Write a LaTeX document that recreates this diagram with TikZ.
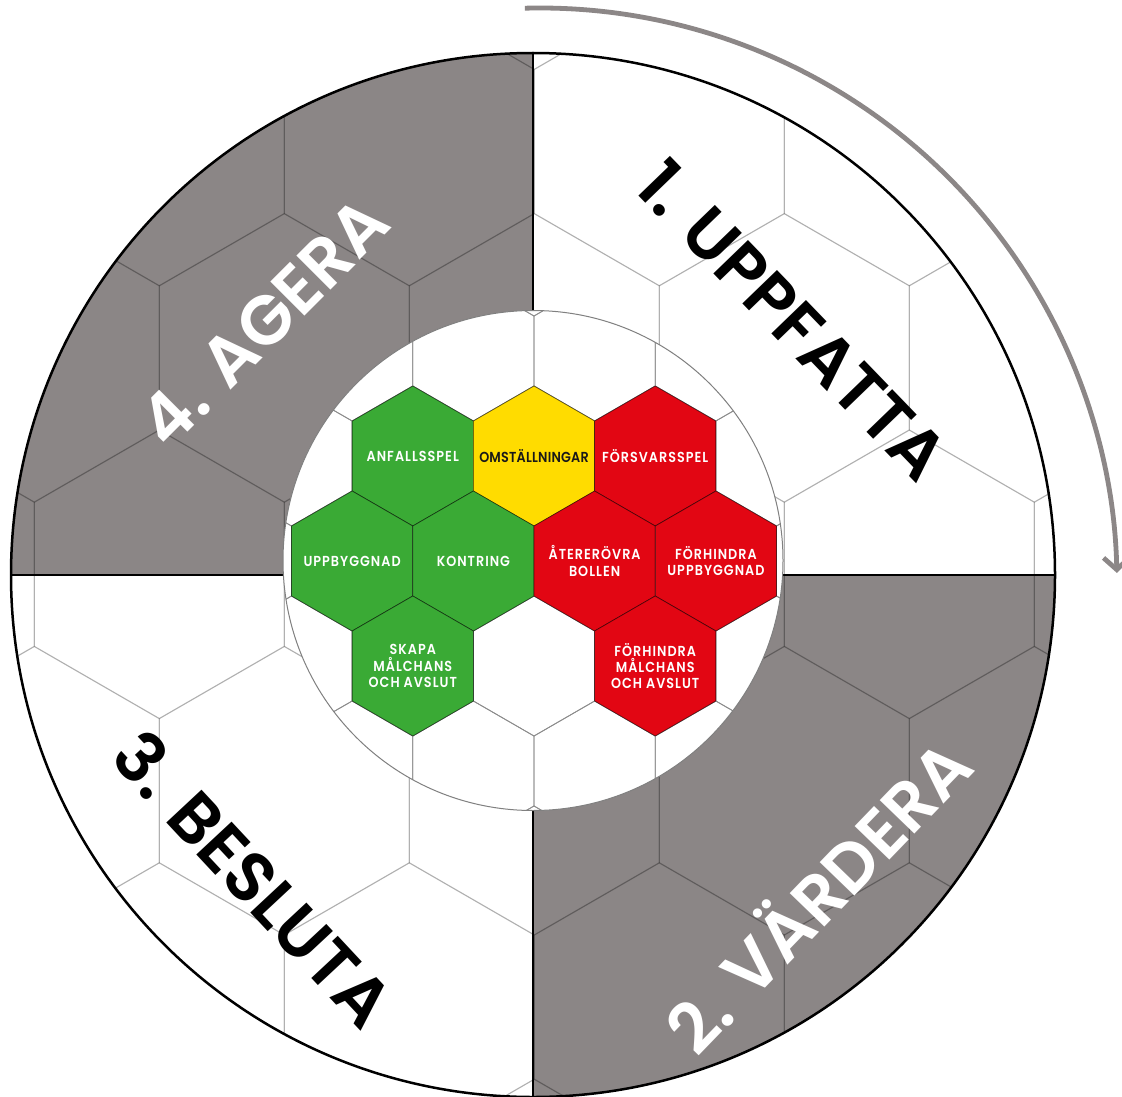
\documentclass[tikz,border=0pt]{standalone}
\usepackage{fontspec}
\usetikzlibrary{shapes.geometric, arrows.meta}
\newfontfamily\phasefont{Poppins SemiBold}
\newfontfamily\hexfont{Poppins SemiBold}[FakeStretch=0.88, LetterSpace=7]
\definecolor{quartergray}{RGB}{139,134,134}
\definecolor{arrowgray}{RGB}{140,135,135}
\definecolor{hexgreen}{RGB}{58,170,53}
\definecolor{hexyellow}{RGB}{255,220,0}
\definecolor{hexred}{RGB}{226,6,19}
\tikzstyle{outer grid}=[black, draw opacity=0.17, line width=1.1pt]
\tikzstyle{inner grid}=[black!45, line width=0.8pt]
\tikzstyle{divider}=[black, line width=2.2pt]
\tikzstyle{rim}=[black, line width=2.5pt]
\tikzstyle{hexcell}=[regular polygon, regular polygon sides=6, shape border rotate=30,
    minimum size=140pt, inner sep=0pt, outer sep=0pt, draw=black, draw opacity=0.55,
    line width=0.7pt]
\tikzstyle{hex text}=[inner sep=0pt, text=white, align=center,
    font=\hexfont\fontsize{14.5}{16.4}\selectfont]
\tikzstyle{green hex}=[hexcell, fill=hexgreen]
\tikzstyle{yellow hex}=[hexcell, fill=hexyellow]
\tikzstyle{red hex}=[hexcell, fill=hexred]
\tikzstyle{phase label}=[inner sep=0pt, font=\phasefont\fontsize{69}{69}\selectfont]

\begin{document}
\begin{tikzpicture}[x=1pt, y=-1pt]
% Frame
    \useasboundingbox (0,0) rectangle (1122,1097);
    \fill[white] (0,0) rectangle (1122,1097);
% Arrow round the wheel
    \coordinate (arcstart) at (524.9,8.2);
    \draw[arrowgray, line width=4.8pt, -{Straight Barb[length=12pt, width=26pt]}]
        (arcstart) arc[start angle=-91.5, end angle=-1.2, radius=577];
% Quarters
    \coordinate (hub) at (533,575);
    \begin{scope}
        \clip (hub) circle[radius=522];
        \fill[white] (hub) circle[radius=522];
        \fill[quartergray] (0,0) rectangle (hub);
        \fill[quartergray] (hub) rectangle (1122,1097);
        \foreach \i in {0,...,6}
            \foreach \j in {-1,...,4} {
                \pgfmathsetmacro{\hx}{34.3+250*\j+125*mod(\i,2)}
                \pgfmathsetmacro{\hy}{-74.9+216.4*\i}
                \draw[outer grid] (\hx,\hy) +(30:144.3) -- +(90:144.3) -- +(150:144.3)
                    -- +(210:144.3) -- +(270:144.3) -- +(330:144.3) -- cycle;
            }
    \end{scope}
    \draw[divider] (533,53) -- (533,1097);
    \draw[divider] (11,575) -- (1055,575);
    \draw[rim] (hub) circle[radius=522];
% Phase labels
    \node[phase label, rotate=-46] (uppfatta) at (793,320) {1. UPPFATTA};
    \node[phase label, rotate=46, white] (vardera) at (815,893) {2. VÄRDERA};
    \node[phase label, rotate=-47] (besluta) at (254,879) {3. BESLUTA};
    \node[phase label, rotate=45, white] (agera) at (264,322) {4. AGERA};
% Ball
    \coordinate (ball) at (533,560.5);
    \begin{scope}
        \clip (ball) circle[radius=250];
        \fill[white] (ball) circle[radius=250];
        \foreach \i in {0,...,6}
            \foreach \j in {-3,...,3} {
                \pgfmathsetmacro{\hx}{534+121.24*\j-60.62*mod(\i,2)}
                \pgfmathsetmacro{\hy}{246+105*\i}
                \draw[inner grid] (\hx,\hy) +(30:70) -- +(90:70) -- +(150:70)
                    -- +(210:70) -- +(270:70) -- +(330:70) -- cycle;
            }
    \end{scope}
% Game phases
    \node[green hex] (anfall) at (412.8,456) {};
    \node[yellow hex] (omstall) at (534,456) {};
    \node[red hex] (forsvar) at (655.2,456) {};
    \node[green hex] (uppbygg) at (352.1,561) {};
    \node[green hex] (kontring) at (473.4,561) {};
    \node[red hex] (aterer) at (594.6,561) {};
    \node[red hex] (hindrupp) at (715.9,561) {};
    \node[green hex] (skapa) at (412.8,666) {};
    \node[red hex] (hindrmal) at (655.2,666) {};
    \draw[black!50, line width=1pt] (ball) circle[radius=250];
% Phase names
    \node[hex text] (anfall text) at (anfall) {ANFALLSSPEL};
    \node[hex text, text=black!90] (omstall text) at (omstall)
        {\addfontfeature{LetterSpace=1.5}OMSTÄLLNINGAR};
    \node[hex text] (forsvar text) at (forsvar) {FÖRSVARSSPEL};
    \node[hex text] (uppbygg text) at (uppbygg) {UPPBYGGNAD};
    \node[hex text] (kontring text) at (kontring) {KONTRING};
    \node[hex text] (aterer text) at (aterer) {ÅTERERÖVRA\\BOLLEN};
    \node[hex text] (hindrupp text) at (hindrupp) {FÖRHINDRA\\UPPBYGGNAD};
    \node[hex text] (skapa text) at (skapa) {SKAPA\\MÅLCHANS\\OCH AVSLUT};
    \node[hex text] (hindrmal text) at (hindrmal) {FÖRHINDRA\\MÅLCHANS\\OCH AVSLUT};
\end{tikzpicture}
\end{document}
